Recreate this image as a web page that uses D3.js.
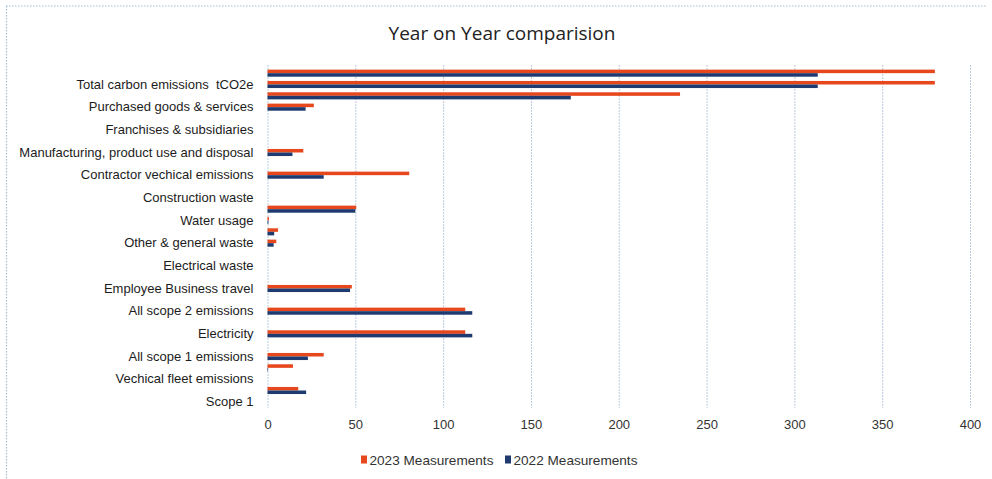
<!DOCTYPE html>
<html>
<head>
<meta charset="utf-8">
<script src="https://cdn.jsdelivr.net/npm/d3@7"></script>
<style>
  html, body { margin: 0; padding: 0; background: #fff; }
  svg { display: block; }
  text { white-space: pre; }
</style>
</head>
<body>
<svg id="chart" width="992" height="479"></svg>
<script>
// Rows listed top to bottom; the axis labels every second row ("" = unlabelled row).
const categories = [
  "", "Total carbon emissions  tCO2e",
  "", "Purchased goods & services",
  "", "Franchises & subsidiaries",
  "", "Manufacturing, product use and disposal",
  "", "Contractor vechical emissions",
  "", "Construction waste",
  "", "Water usage",
  "", "Other & general waste",
  "", "Electrical waste",
  "", "Employee Business travel",
  "", "All scope 2 emissions",
  "", "Electricity",
  "", "All scope 1 emissions",
  "", "Vechical fleet emissions",
  "", "Scope 1"
];
const values2023 = [
  380, 380, 234.9, 26.4, 0, 0, 0, 20.4, 0, 80.7,
  0, 0, 50.5, 0.8, 6, 5, 0, 0, 0, 48,
  0, 112.6, 0, 112.6, 0, 32, 14.5, 0, 17.5, 0
];
const values2022 = [
  313.3, 313.3, 172.7, 21.7, 0, 0, 0, 14.2, 0, 32,
  0, 0, 50, 0.5, 3.8, 3.5, 0, 0, 0, 47,
  0, 116.6, 0, 116.6, 0, 23, 0.3, 0, 22, 0
];
const seriesNames = ["2023 Measurements", "2022 Measurements"];
const seriesColors = ["#e6471d", "#1f3a6f"];
const xTicks = [0, 50, 100, 150, 200, 250, 300, 350, 400];
const chartTitle = "Year on Year comparision";

const svg = d3.select("#chart");
const labelFont = "'Liberation Sans', Arial, sans-serif";

// chart frame (dotted top and left edge)
svg.append("line").attr("x1", 6).attr("x2", 986).attr("y1", 6).attr("y2", 6)
  .attr("stroke", "#a9bccf").attr("stroke-width", 1.2).attr("stroke-dasharray", "1.5,1.5");
svg.append("line").attr("x1", 6.5).attr("x2", 6.5).attr("y1", 6).attr("y2", 479)
  .attr("stroke", "#a9bccf").attr("stroke-width", 1.2).attr("stroke-dasharray", "1.5,1.5");

const x = d3.scaleLinear().domain([0, 400]).range([267.5, 970]);
const y = d3.scaleBand().domain(d3.range(categories.length)).range([67.5, 407.5]).paddingInner(0).paddingOuter(0);
const inner = d3.scaleBand().domain([0, 1]).range([0, y.bandwidth()]).paddingOuter(0.6).paddingInner(0);

// title
svg.append("text").attr("x", 502).attr("y", 40).attr("text-anchor", "middle")
  .attr("font-family", "'Open Sans', sans-serif").attr("font-size", 19).attr("fill", "#222")
  .text(chartTitle);

// vertical gridlines
svg.append("g").selectAll("line").data(xTicks).join("line")
  .attr("x1", d => x(d) + 0.5).attr("x2", d => x(d) + 0.5)
  .attr("y1", 65).attr("y2", 408)
  .attr("stroke", "#bccbdc").attr("stroke-width", 1).attr("stroke-dasharray", "2,1");

// bars
const rows = categories.map((c, i) => ({ i, v: [values2023[i], values2022[i]] }));
const groups = svg.append("g").selectAll("g").data(rows).join("g")
  .attr("transform", d => `translate(0,${y(d.i)})`);
groups.selectAll("rect").data(d => d.v.map((v, s) => ({ v, s }))).join("rect")
  .attr("x", x(0))
  .attr("y", d => inner(d.s))
  .attr("width", d => x(d.v) - x(0))
  .attr("height", inner.bandwidth())
  .attr("fill", d => seriesColors[d.s]);

// category axis
const yAxis = d3.axisLeft(y).tickSize(0).tickPadding(14).tickFormat(i => categories[i]);
const gy = svg.append("g").attr("transform", `translate(${x(0)},0)`).call(yAxis);
gy.select(".domain").remove();
gy.selectAll("text").attr("font-family", labelFont).attr("font-size", 13).attr("fill", "#1c1c1c");

// value axis
const xAxis = d3.axisBottom(x).tickValues(xTicks).tickSize(0).tickPadding(0);
const gx = svg.append("g").attr("transform", `translate(0,420)`).call(xAxis);
gx.select(".domain").remove();
gx.selectAll("text").attr("font-family", labelFont).attr("font-size", 13).attr("fill", "#333");

// legend
const legend = svg.append("g").attr("transform", "translate(361,460)");
const legendX = [0, 144];
seriesNames.forEach((name, s) => {
  const g = legend.append("g").attr("transform", `translate(${legendX[s]},0)`);
  g.append("rect").attr("x", 0).attr("y", -4.5).attr("width", 6).attr("height", 8).attr("fill", seriesColors[s]);
  g.append("text").attr("x", 8.5).attr("y", 5).attr("font-family", labelFont)
    .attr("font-size", 13.6).attr("fill", "#333").text(name);
});
</script>
</body>
</html>
